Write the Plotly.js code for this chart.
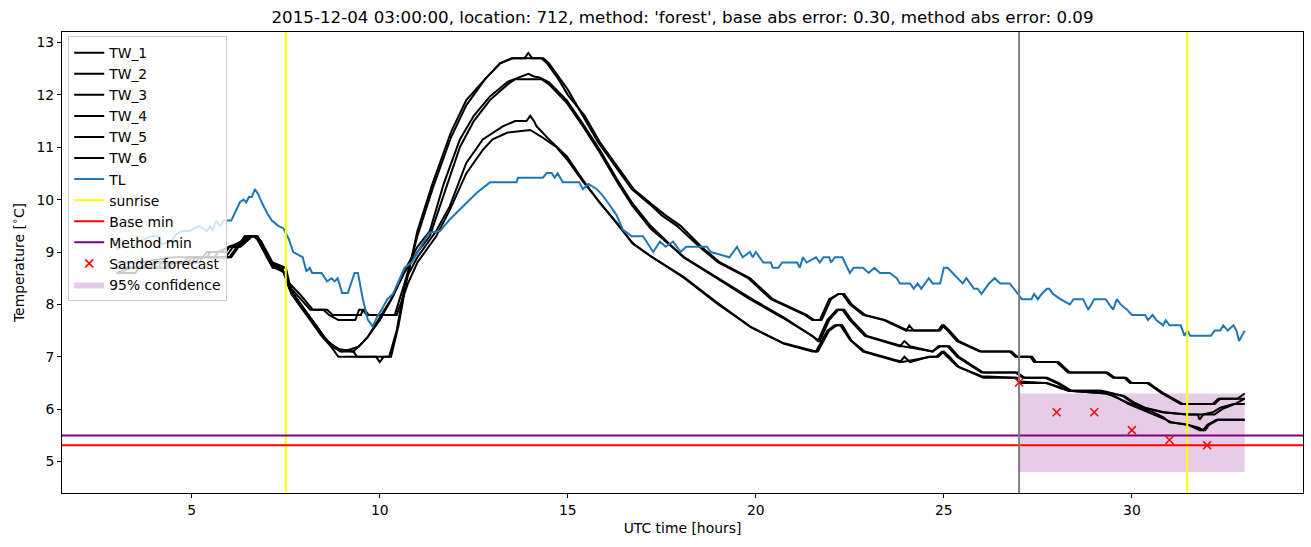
<!DOCTYPE html>
<html>
<head>
<meta charset="utf-8">
<script src="https://cdn.plot.ly/plotly-3.0.1.min.js"></script>
<style>
  html, body { margin: 0; padding: 0; background: #fff; }
  #chart { width: 1311px; height: 547px; }
</style>
</head>
<body>
<div id="chart"></div>
<script>
// [hour, temperature]
const TW_1 = [[3.0,8.7],[3.7,8.7],[3.8,8.8],[4.8,8.8],[4.9,8.9],[5.4,8.9],[5.5,9.0],[5.9,9.0],[6.0,9.1],[6.25,9.1],[6.4,9.3],[6.7,9.3],[6.85,9.2],[7.0,8.9],[7.2,8.7],[7.4,8.7],[7.5,8.5],
  [7.6,8.3],[7.9,8.0],[8.1,7.8],[8.4,7.5],[8.7,7.2],[8.9,7.0],[9.9,7.0],[10.0,6.9],[10.1,7.0],[10.3,7.0],[10.5,7.6],[10.7,8.4],[11.0,9.4],[11.4,10.3],[11.9,11.3],[12.3,11.9],[12.8,12.3],[13.2,12.6],
  [13.5,12.7],[13.85,12.7],[13.95,12.8],[14.05,12.7],[14.35,12.7],[14.5,12.6],[14.8,12.3],[15.0,12.1],[15.4,11.6],[15.8,11.1],[16.3,10.6],[16.7,10.2],[17.2,9.9],[17.5,9.7],[17.9,9.5],[18.5,9.1],
  [19.0,8.8],[19.8,8.5],[20.4,8.1],[21.3,7.8],[21.5,7.7],[21.7,7.7],[21.95,8.1],[22.2,8.2],[22.3,8.2],[22.5,8.0],[22.85,7.8],[23.4,7.7],[24.0,7.5],[24.08,7.6],[24.2,7.5],[24.85,7.5],[24.95,7.6],
  [25.1,7.5],[25.35,7.3],[25.95,7.1],[26.75,7.1],[26.9,7.0],[27.3,7.0],[27.4,6.9],[28.0,6.9],[28.3,6.7],[29.3,6.7],[29.5,6.6],[29.8,6.6],[29.95,6.5],[30.4,6.5],[30.8,6.3],[31.3,6.1],[32.15,6.1],
  [32.3,6.2],[32.8,6.2],[33.0,6.3]];
const TW_2 = [[3.0,8.6],[3.5,8.6],[3.6,8.7],[4.3,8.7],[4.4,8.8],[5.1,8.8],[5.2,8.9],[5.9,8.9],[6.1,9.1],[6.3,9.2],[6.45,9.3],[6.65,9.3],[6.8,9.2],[6.95,9.0],[7.1,8.8],[7.4,8.7],[7.5,8.5],
  [7.65,8.2],[7.95,7.9],[8.2,7.7],[8.5,7.4],[8.75,7.2],[8.95,7.1],[9.3,7.1],[9.4,7.0],[10.25,7.0],[10.45,7.5],[10.7,8.5],[11.0,9.3],[11.4,10.2],[11.9,11.2],[12.3,11.8],[12.8,12.3],[13.2,12.6],
  [13.55,12.7],[14.3,12.7],[14.45,12.6],[14.75,12.3],[15.0,12.0],[15.45,11.6],[15.85,11.1],[16.35,10.6],[16.75,10.2],[17.25,9.9],[17.6,9.7],[18.0,9.5],[18.55,9.1],[19.05,8.8],[19.85,8.5],
  [20.45,8.1],[21.35,7.8],[21.55,7.7],[21.75,7.7],[22.0,8.1],[22.2,8.2],[22.35,8.2],[22.55,8.0],[22.9,7.8],[23.45,7.7],[24.05,7.5],[24.9,7.5],[25.0,7.6],[25.15,7.5],[25.4,7.3],[26.0,7.1],
  [26.8,7.1],[26.95,7.0],[27.35,7.0],[27.45,6.9],[28.05,6.9],[28.35,6.7],[29.35,6.7],[29.55,6.6],[29.85,6.6],[30.0,6.5],[30.45,6.5],[30.85,6.3],[31.35,6.1],[32.2,6.1],[32.35,6.2],[33.0,6.2]];
const TW_3 = [[3.0,8.7],[3.9,8.7],[4.0,8.8],[4.9,8.8],[5.0,8.9],[5.6,8.9],[5.7,9.0],[6.0,9.1],[6.35,9.2],[6.5,9.3],[6.7,9.3],[6.85,9.1],[7.0,8.9],[7.15,8.7],[7.5,8.7],
  [7.55,8.4],[7.8,8.1],[8.1,7.8],[8.4,7.5],[8.6,7.3],[8.9,7.15],[9.3,7.1],[9.65,7.35],[10.0,7.7],[10.35,8.15],[10.7,8.7],[11.0,9.1],[11.33,9.4],[11.7,10.3],[12.13,11.15],[12.5,11.6],[12.93,11.97],
  [13.4,12.25],[13.8,12.35],[13.95,12.4],[14.1,12.35],[14.25,12.33],[14.5,12.24],[14.97,11.9],[15.4,11.45],[15.85,10.95],[16.3,10.4],[16.7,9.95],[17.2,9.5],[18.07,8.9],[18.96,8.5],[19.84,8.1],
  [20.7,7.75],[21.5,7.4],[21.65,7.3],[21.9,7.7],[22.15,7.9],[22.3,7.9],[22.5,7.7],[22.9,7.4],[23.83,7.2],[23.95,7.3],[24.1,7.2],[24.7,7.1],[24.85,7.2],[25.1,7.2],[25.35,7.0],[26.0,6.7],[26.9,6.7],
  [27.1,6.6],[27.7,6.6],[28.0,6.5],[28.35,6.35],[29.15,6.35],[29.77,6.25],[30.0,6.13],[30.3,6.03],[30.8,5.94],[31.45,5.9],[31.75,5.9],[31.8,5.8],[31.9,5.9],[32.15,5.94],[32.35,6.03],[32.7,6.1],[33.0,6.1]];
const TW_4 = [[3.0,8.8],[3.6,8.8],[4.5,8.9],[5.3,8.9],[5.4,9.0],[5.9,9.0],[6.0,9.1],[6.3,9.1],[6.45,9.2],[6.6,9.3],[6.7,9.3],[6.8,9.2],[6.95,9.0],[7.1,8.8],[7.5,8.6],
  [7.6,8.3],[7.85,8.0],[8.15,7.7],[8.45,7.4],[8.7,7.2],[9.0,7.1],[9.25,7.15],[9.45,7.2],[9.7,7.4],[10.0,7.75],[10.3,8.1],[10.65,8.6],[11.0,9.0],[11.33,9.3],[11.7,10.1],[12.13,11.0],[12.5,11.5],
  [12.93,11.9],[13.4,12.2],[13.6,12.3],[14.3,12.3],[14.5,12.2],[14.97,11.85],[15.4,11.4],[15.85,10.9],[16.3,10.35],[16.7,9.9],[17.2,9.45],[18.1,8.9],[19.0,8.5],[19.9,8.1],[20.75,7.75],[21.5,7.4],
  [21.7,7.3],[21.95,7.7],[22.2,7.9],[22.35,7.9],[22.55,7.7],[22.95,7.4],[23.9,7.2],[24.7,7.1],[24.9,7.2],[25.15,7.2],[25.4,7.0],[26.05,6.7],[26.95,6.7],[27.15,6.6],[27.75,6.6],[28.05,6.5],
  [28.4,6.35],[29.2,6.35],[29.8,6.25],[30.05,6.13],[30.35,6.03],[30.85,5.94],[31.5,5.9],[32.2,5.9],[32.4,6.0],[32.75,6.1],[33.0,6.2]];
const TW_5 = [[3.0,8.7],[4.1,8.7],[4.2,8.8],[5.0,8.8],[5.1,8.9],[6.0,8.9],[6.2,9.1],[6.4,9.2],[6.55,9.3],[6.7,9.3],[6.85,9.2],[7.0,9.0],[7.15,8.8],[7.5,8.7],
  [7.6,8.4],[7.87,8.2],[8.1,8.0],[8.22,7.9],[8.5,7.9],[8.65,7.8],[8.9,7.7],[9.35,7.7],[9.45,7.9],[9.6,7.9],[9.7,7.8],[10.4,7.8],[10.7,8.5],[11.0,8.9],[11.5,9.4],[11.86,9.87],[12.3,10.7],
  [12.74,11.15],[13.27,11.4],[13.6,11.5],[13.9,11.5],[14.0,11.6],[14.1,11.5],[14.17,11.4],[14.5,11.15],[14.97,10.83],[15.4,10.38],[15.85,9.94],[16.3,9.56],[16.7,9.18],[17.2,8.92],[18.07,8.53],
  [18.96,8.04],[19.84,7.58],[20.7,7.27],[21.44,7.14],[21.6,7.1],[21.9,7.5],[22.1,7.6],[22.25,7.6],[22.5,7.33],[22.85,7.1],[23.83,6.9],[23.95,7.0],[24.1,6.9],[24.6,7.0],[24.8,7.0],[24.95,7.1],
  [25.1,7.0],[25.35,6.82],[26.0,6.63],[26.9,6.6],[27.0,6.53],[27.7,6.5],[28.05,6.43],[28.3,6.35],[29.3,6.3],[29.5,6.25],[29.87,6.13],[30.2,6.03],[30.57,5.94],[30.83,5.85],[31.0,5.75],[31.45,5.71],
  [31.76,5.65],[31.9,5.6],[32.0,5.7],[32.25,5.8],[33.0,5.8]];
const TW_6 = [[3.0,8.6],[3.4,8.7],[4.4,8.7],[4.5,8.8],[5.2,8.8],[5.3,8.9],[6.05,8.9],[6.25,9.1],[6.45,9.2],[6.6,9.3],[6.75,9.3],[6.9,9.1],[7.05,8.9],[7.2,8.7],[7.5,8.6],
  [7.65,8.3],[7.9,8.1],[8.15,7.9],[8.6,7.9],[8.75,7.8],[9.5,7.8],[9.55,7.9],[9.65,7.8],[10.45,7.8],[10.75,8.4],[11.0,8.8],[11.5,9.3],[11.86,9.8],[12.3,10.5],[12.74,10.95],[13.0,11.15],[13.4,11.28],
  [14.0,11.33],[14.3,11.2],[14.7,11.0],[15.0,10.75],[15.4,10.35],[15.9,9.9],[16.35,9.5],[16.75,9.15],[17.25,8.9],[18.1,8.5],[19.0,8.0],[19.9,7.55],[20.75,7.25],[21.5,7.1],[21.65,7.1],[21.95,7.5],
  [22.15,7.6],[22.3,7.6],[22.55,7.3],[22.9,7.1],[23.9,6.9],[24.65,7.0],[24.85,7.0],[25.0,7.1],[25.15,7.0],[25.4,6.8],[26.05,6.6],[26.95,6.6],[27.05,6.5],[27.75,6.5],[28.1,6.4],[28.35,6.35],
  [29.35,6.3],[29.55,6.25],[29.9,6.1],[30.25,6.0],[30.6,5.9],[30.9,5.8],[31.05,5.75],[31.5,5.7],[31.8,5.6],[31.95,5.6],[32.05,5.7],[32.3,5.8],[33.0,5.8]];
const TL = [[3.0,9.05],[3.15,9.1],[3.45,9.1],[3.6,9.2],[3.9,9.3],[4.1,9.3],[4.2,9.15],[4.45,9.2],[4.6,9.35],[4.75,9.4],[4.95,9.4],[5.2,9.5],[5.3,9.45],[5.4,9.4],[5.5,9.5],[5.55,9.4],
  [5.65,9.6],[5.75,9.5],[5.85,9.6],[6.05,9.6],[6.15,9.75],[6.28,9.95],[6.38,10.0],[6.45,9.95],[6.52,10.05],[6.6,10.05],[6.68,10.2],[6.77,10.1],[6.86,9.95],[7.0,9.75],[7.13,9.6],[7.3,9.5],
  [7.44,9.45],[7.58,9.25],[7.7,9.0],[7.95,8.9],[8.05,8.63],[8.14,8.7],[8.2,8.6],[8.45,8.6],[8.6,8.44],[8.72,8.5],[8.8,8.44],[8.88,8.5],[9.0,8.22],[9.15,8.22],[9.33,8.6],[9.42,8.6],[9.55,8.1],
  [9.68,7.71],[9.81,7.58],[9.92,7.75],[10.05,7.9],[10.2,8.1],[10.35,8.2],[10.66,8.7],[10.85,8.8],[11.2,9.24],[11.33,9.37],[11.6,9.4],[11.86,9.62],[12.2,9.87],[12.58,10.13],[12.93,10.33],
  [13.64,10.33],[13.67,10.42],[14.34,10.42],[14.44,10.51],[14.57,10.51],[14.65,10.42],[14.73,10.5],[14.87,10.33],[15.3,10.33],[15.4,10.2],[15.55,10.3],[15.77,10.2],[15.9,10.1],[16.06,9.95],
  [16.3,9.7],[16.46,9.43],[16.7,9.3],[17.0,9.3],[17.27,9.0],[17.45,9.2],[17.6,9.1],[17.8,9.2],[18.0,9.0],[18.15,9.1],[18.7,9.1],[18.8,9.0],[19.3,8.9],[19.5,9.1],[19.65,8.9],[19.84,9.0],
  [19.92,8.9],[20.0,9.0],[20.2,8.8],[20.4,8.8],[20.45,8.7],[20.6,8.7],[20.7,8.8],[21.1,8.8],[21.17,8.7],[21.25,8.9],[21.35,8.8],[21.6,8.9],[21.7,8.8],[21.8,8.9],[21.95,8.9],[22.0,8.8],
  [22.1,8.9],[22.3,8.9],[22.5,8.6],[22.6,8.7],[22.85,8.7],[23.0,8.6],[23.15,8.7],[23.3,8.6],[23.56,8.6],[23.75,8.5],[23.83,8.4],[24.1,8.4],[24.2,8.3],[24.3,8.4],[24.4,8.3],[24.6,8.5],
  [24.7,8.4],[24.9,8.4],[25.0,8.7],[25.1,8.7],[25.35,8.5],[25.5,8.4],[25.6,8.5],[25.8,8.3],[25.9,8.3],[26.0,8.2],[26.2,8.4],[26.35,8.5],[26.5,8.4],[26.75,8.4],[26.97,8.2],[27.07,8.1],
  [27.33,8.1],[27.4,8.2],[27.5,8.1],[27.6,8.2],[27.74,8.3],[27.8,8.3],[27.9,8.2],[28.1,8.1],[28.35,8.0],[28.45,8.1],[28.7,8.1],[28.84,7.9],[28.92,8.0],[29.0,8.1],[29.3,8.1],[29.5,7.9],
  [29.6,8.1],[29.7,8.0],[29.87,7.9],[30.0,7.8],[30.35,7.8],[30.43,7.7],[30.55,7.8],[30.65,7.7],[30.83,7.6],[30.9,7.7],[31.0,7.6],[31.3,7.6],[31.4,7.4],[31.48,7.5],[31.55,7.4],[32.1,7.4],
  [32.2,7.5],[32.35,7.5],[32.43,7.6],[32.55,7.5],[32.7,7.6],[32.78,7.5],[32.85,7.3],[33.0,7.5]];

const sunriseHours = [7.5, 31.47];
const baseMin = 5.31;
const methodMin = 5.5;
const forecastStart = 27.0;
const sanderHours = [27, 28, 29, 30, 31, 32];
const sanderTemps = [6.51, 5.94, 5.94, 5.6, 5.41, 5.31];
const ciHours = [27, 33];
const ciTemps = [4.8, 6.3];

const xRange = [1.55, 34.55];
const yRange = [4.4, 13.2];
const FONT = "DejaVu Sans, Liberation Sans, sans-serif";

function lineTrace(name, pts, color) {
  return {
    x: pts.map((p) => p[0]),
    y: pts.map((p) => p[1]),
    name: name,
    type: "scatter",
    mode: "lines",
    line: { color: color, width: 2 },
  };
}

const traces = [
  {
    x: [ciHours[0], ciHours[1], ciHours[1], ciHours[0], ciHours[0]],
    y: [ciTemps[0], ciTemps[0], ciTemps[1], ciTemps[1], ciTemps[0]],
    name: "95% confidence",
    type: "scatter",
    mode: "lines",
    fill: "toself",
    fillcolor: "rgba(128,0,128,0.2)",
    line: { width: 0 },
    legendrank: 2000,
  },
  lineTrace("TW_1", TW_1, "#000000"),
  lineTrace("TW_2", TW_2, "#000000"),
  lineTrace("TW_3", TW_3, "#000000"),
  lineTrace("TW_4", TW_4, "#000000"),
  lineTrace("TW_5", TW_5, "#000000"),
  lineTrace("TW_6", TW_6, "#000000"),
  lineTrace("TL", TL, "#1f77b4"),
  {
    x: [sunriseHours[0], sunriseHours[0], null, sunriseHours[1], sunriseHours[1]],
    y: [yRange[0], yRange[1], null, yRange[0], yRange[1]],
    name: "sunrise", type: "scatter", mode: "lines",
    line: { color: "#ffff00", width: 2 },
  },
  {
    x: xRange, y: [baseMin, baseMin],
    name: "Base min", type: "scatter", mode: "lines",
    line: { color: "#ff0000", width: 2 },
  },
  {
    x: xRange, y: [methodMin, methodMin],
    name: "Method min", type: "scatter", mode: "lines",
    line: { color: "#800080", width: 2 },
  },
  {
    x: [forecastStart, forecastStart], y: yRange,
    type: "scatter", mode: "lines", showlegend: false,
    line: { color: "#808080", width: 2 },
  },
  {
    x: sanderHours, y: sanderTemps,
    name: "Sander forecast", type: "scatter", mode: "markers",
    marker: { symbol: "x-thin", size: 8, line: { color: "#ff0000", width: 1.5 } },
  },
];

const axisStyle = {
  showgrid: false, zeroline: false,
  showline: true, mirror: true, linecolor: "#000", linewidth: 1,
  ticks: "outside", ticklen: 4, tickcolor: "#000",
  tickfont: { family: FONT, size: 13.9, color: "#000" },
};

Plotly.newPlot("chart", traces, {
  width: 1311, height: 547,
  margin: { l: 62, r: 8, t: 32, b: 54 },
  paper_bgcolor: "#fff", plot_bgcolor: "#fff",
  font: { family: FONT, color: "#000" },
  title: {
    text: "2015-12-04 03:00:00, location: 712, method: 'forest', base abs error: 0.30, method abs error: 0.09",
    font: { family: FONT, size: 16.7, color: "#000" },
    x: 0.5, xref: "paper", y: 1 - 17 / 547, yref: "container", yanchor: "middle",
  },
  xaxis: Object.assign({}, axisStyle, {
    range: xRange, tickvals: [5, 10, 15, 20, 25, 30],
    title: { text: "UTC time [hours]", font: { family: FONT, size: 13.9 }, standoff: 6 },
  }),
  yaxis: Object.assign({}, axisStyle, {
    range: yRange, tickvals: [5, 6, 7, 8, 9, 10, 11, 12, 13],
    title: { text: "Temperature [<sup>∘</sup>C]", font: { family: FONT, size: 13.9 }, standoff: 8 },
  }),
  legend: {
    x: 0.005, y: 0.991, xanchor: "left", yanchor: "top",
    bgcolor: "rgba(255,255,255,0.8)", bordercolor: "#cccccc", borderwidth: 1,
    font: { family: FONT, size: 13.9, color: "#000" },
    itemwidth: 30,
  },
  showlegend: true,
}, { displayModeBar: false, staticPlot: true });
</script>
</body>
</html>
